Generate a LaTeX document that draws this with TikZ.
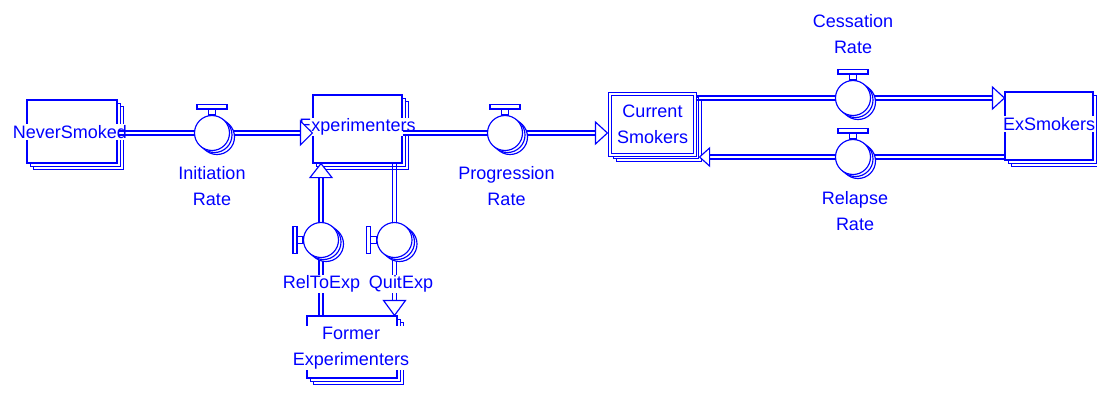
\documentclass[tikz,border=0pt]{standalone}
\usepackage{fontspec}
\setmainfont{Liberation Sans}
\usetikzlibrary{shadows}
\definecolor{sfblue}{RGB}{0,0,255}
\newcommand{\hpipe}[2]{\draw[pipeline] ([yshift=2pt]#1) -- ([yshift=2pt]#2) ([yshift=-2pt]#1) -- ([yshift=-2pt]#2);}
\newcommand{\vpipe}[2]{\draw[pipeline] ([xshift=2pt]#1) -- ([xshift=2pt]#2) ([xshift=-2pt]#1) -- ([xshift=-2pt]#2);}
\begin{document}
\begin{tikzpicture}[x=1pt,y=-1pt,line width=1.15pt,
  stock/.style={rectangle, draw=sfblue, fill=white, inner sep=0pt,
    copy shadow={shadow xshift=6.6pt, shadow yshift=-6.6pt, draw=sfblue, fill=white, line width=1.15pt},
    copy shadow={shadow xshift=3.3pt, shadow yshift=-3.3pt, draw=sfblue, fill=white, line width=1.15pt}},
  dblstock/.style={stock, double=white, double distance=2pt},
  lbl/.style={text=sfblue, fill=white, inner sep=1pt, align=center,
    font=\fontsize{18}{26}\selectfont},
  pipeline/.style={draw=sfblue, line width=1.15pt},
  valve/.style={circle, draw=sfblue, fill=white, minimum size=35pt, inner sep=0pt,
    copy shadow={shadow xshift=5pt, shadow yshift=-4pt, draw=sfblue, fill=white, line width=1.15pt},
    copy shadow={shadow xshift=2.5pt, shadow yshift=-2pt, draw=sfblue, fill=white, line width=1.15pt}},
  vbar/.style={draw=sfblue, fill=white, line width=1.15pt},
  flowtip/.style={draw=sfblue, fill=white, line width=1.15pt, line join=miter},
]
\useasboundingbox (0,0) rectangle (1097,394);

% stocks
\node[stock, minimum width=90pt, minimum height=63pt] (ns) at (72,131.5) {};
\node[stock, minimum width=89pt, minimum height=68pt] (exp) at (357.5,129) {};
\node[dblstock, minimum width=85pt, minimum height=61pt] (cs) at (652.5,124.5) {};
\node[stock, minimum width=88pt, minimum height=68pt] (ex) at (1049,126) {};
\node[stock, minimum width=90pt, minimum height=62pt] (fe) at (352,347) {};

% stock labels
\node[lbl] (nsl) at (70,132) {NeverSmoked};
\node[lbl] (expl) at (357.5,127) {Experimenters};
\node[lbl, fill=none] (csl) at (cs) {Current\\Smokers};
\node[lbl] (exl) at (1049,124) {ExSmokers};
\node[lbl] (fel) at (351,348) {Former\\Experimenters};

% valve positions
\coordinate (ivc) at (212,133);
\coordinate (pvc) at (505,133);
\coordinate (cvc) at (853,98);
\coordinate (rlc) at (853,157);
\coordinate (rvc) at (321,240);
\coordinate (qvc) at (394.5,240);

% pipe end points (arrowhead bases and sources)
\coordinate (ivs) at (ns.east |- ivc);
\coordinate (ive) at ([xshift=-12pt]exp.west |- ivc);
\coordinate (pvs) at (exp.east |- pvc);
\coordinate (pve) at ([xshift=-14pt]cs.west |- pvc);
\coordinate (cvs) at (cs.east |- cvc);
\coordinate (cve) at ([xshift=-12pt]ex.west |- cvc);
\coordinate (rls) at (ex.west |- rlc);
\coordinate (rle) at ([xshift=14pt]cs.east |- rlc);
\coordinate (rvs) at (fe.north -| rvc);
\coordinate (rve) at ([yshift=-14pt]exp.south -| rvc);
\coordinate (qvs) at (exp.south -| qvc);
\coordinate (qve) at ([yshift=15pt]fe.north -| qvc);

% pipes
\hpipe{ivs}{ivc}
\hpipe{ivc}{ive}
\hpipe{pvs}{pvc}
\hpipe{pvc}{pve}
\hpipe{cvs}{cvc}
\hpipe{cvc}{cve}
\hpipe{rls}{rlc}
\hpipe{rlc}{rle}
\vpipe{rvs}{rvc}
\vpipe{rvc}{rve}
\vpipe{qvs}{qvc}
\vpipe{qvc}{qve}

% valves
\node[valve] (iv) at (ivc) {};
\node[valve] (pv) at (pvc) {};
\node[valve] (cv) at (cvc) {};
\node[valve] (rl) at (rlc) {};
\node[valve] (rv) at (rvc) {};
\node[valve] (qv) at (qvc) {};

% valve handles (top)
\foreach \v in {iv,pv,cv,rl}{
  \draw[vbar] ([xshift=-3.5pt]\v.north) rectangle ([xshift=3.5pt,yshift=6pt]\v.north);
  \draw[vbar] ([xshift=-15pt,yshift=6pt]\v.north) rectangle ([xshift=15pt,yshift=10.5pt]\v.north);
}
% valve handles (left)
\foreach \v in {rv,qv}{
  \draw[vbar] ([yshift=-3.5pt]\v.west) rectangle ([xshift=-6pt,yshift=3.5pt]\v.west);
  \draw[vbar] ([xshift=-6pt,yshift=-13.5pt]\v.west) rectangle ([xshift=-10pt,yshift=13.5pt]\v.west);
}

% arrowheads
\draw[flowtip] (exp.west |- ivc) -- ++(-12,-12) -- ++(0,24) -- cycle;
\draw[flowtip] ([xshift=-2pt]cs.west |- pvc) -- ++(-12,-11) -- ++(0,22) -- cycle;
\draw[flowtip] (ex.west |- cvc) -- ++(-12,-11) -- ++(0,22) -- cycle;
\draw[flowtip] ([xshift=4pt]cs.east |- rlc) -- ++(10,-9) -- ++(0,18) -- cycle;
\draw[flowtip] (exp.south -| rvc) -- ++(-11,14) -- ++(22,0) -- cycle;
\draw[flowtip] (fe.north -| qvc) -- ++(-11,-15) -- ++(22,0) -- cycle;

% valve labels
\node[lbl] (ivl) at (212,186) {Initiation\\Rate};
\node[lbl] (pvl) at (506.5,186) {Progression\\Rate};
\node[lbl] (cvl) at (853,34) {Cessation\\Rate};
\node[lbl] (rll) at (855,211) {Relapse\\Rate};
\node[lbl] (rvl) at (321.5,284) {RelToExp};
\node[lbl] (qvl) at (401,284) {QuitExp};
\end{tikzpicture}
\end{document}
